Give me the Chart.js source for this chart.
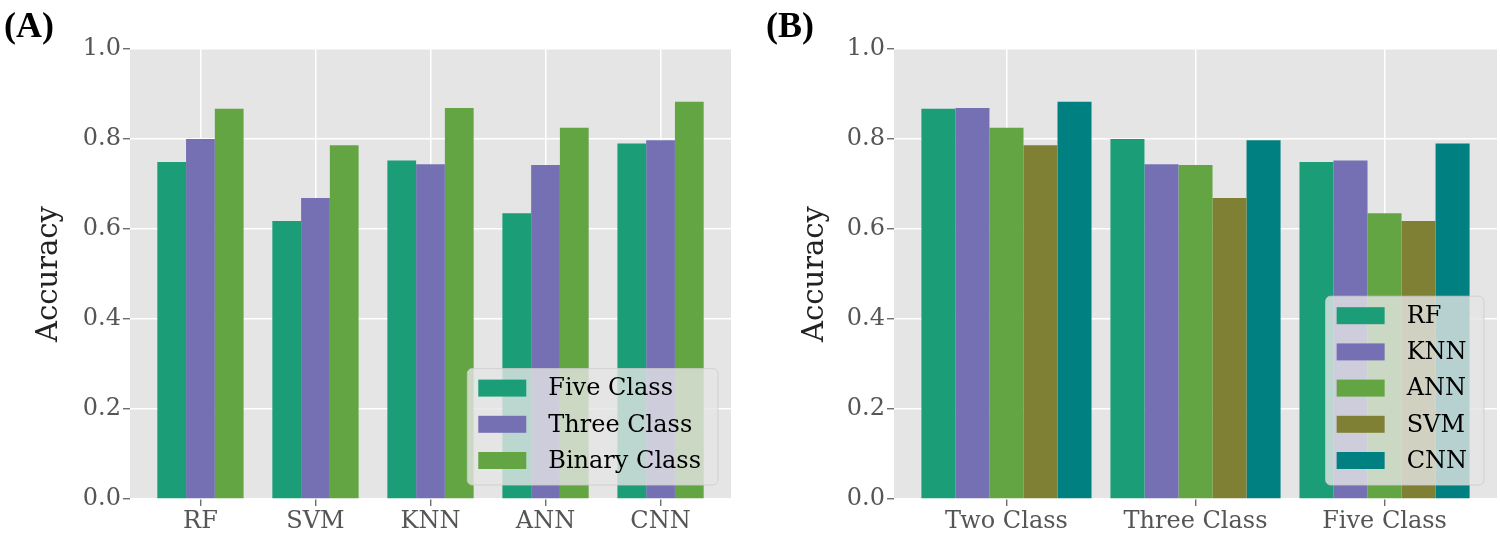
<!DOCTYPE html>
<html><head><meta charset="utf-8">
<script src="https://cdn.jsdelivr.net/npm/chart.js@4.4.1/dist/chart.umd.min.js"></script>
<style>
html,body{margin:0;padding:0;background:#fff;}
#wrap{position:relative;width:1500px;height:535px;overflow:hidden;background:#fff;}
.panel{position:absolute;top:0;width:750px;height:535px;}
.plabel{position:absolute;font-family:"Liberation Serif","Times New Roman",serif;font-weight:bold;font-size:36px;line-height:1;color:#000;}
</style></head>
<body><div id="wrap">
<div class="panel" style="left:0"><canvas id="cA" width="750" height="535"></canvas></div>
<div class="panel" style="left:750px"><canvas id="cB" width="750" height="535"></canvas></div>
<div class="plabel" style="left:4px;top:7px">(A)</div>
<div class="plabel" style="left:766px;top:7px">(B)</div>
</div>
<script>
// ---- Panel A data ----
const modelsA = ["RF", "SVM", "KNN", "ANN", "CNN"];
const seriesNamesA = ["Five Class", "Three Class", "Binary Class"];
const fiveClassA = [0.749, 0.618, 0.752, 0.635, 0.790];
const threeClassA = [0.800, 0.669, 0.744, 0.742, 0.797];
const binaryClassA = [0.867, 0.786, 0.869, 0.825, 0.883];
const colorsA = ["#1b9e77", "#7570b3", "#63a542"];

// ---- Panel B data ----
const classesB = ["Two Class", "Three Class", "Five Class"];
const seriesNamesB = ["RF", "KNN", "ANN", "SVM", "CNN"];
const rfB = [0.867, 0.800, 0.749];
const knnB = [0.869, 0.744, 0.752];
const annB = [0.825, 0.742, 0.635];
const svmB = [0.786, 0.669, 0.618];
const cnnB = [0.883, 0.797, 0.790];
const colorsB = ["#1b9e77", "#7570b3", "#63a542", "#7f8034", "#008080"];

// ---- shared ----
const yTicks = [0.0, 0.2, 0.4, 0.6, 0.8, 1.0];
const yLabel = "Accuracy";
const FONT = "'DejaVu Serif', serif";

const plotBg = {
  id: 'plotBg',
  beforeDraw(chart, args, o) {
    const {ctx, chartArea: a} = chart;
    ctx.save();
    ctx.fillStyle = o.color;
    ctx.fillRect(a.left, a.top, a.right - a.left, a.bottom - a.top);
    ctx.restore();
  }
};

const boxLegend = {
  id: 'boxLegend',
  afterDatasetsDraw(chart, args, o) {
    const ctx = chart.ctx, a = chart.chartArea;
    const ds = chart.data.datasets;
    ctx.save();
    ctx.font = o.fontSize + 'px ' + FONT;
    let tw = 0;
    ds.forEach(d => { tw = Math.max(tw, ctx.measureText(d.label).width); });
    const w = o.padLeft + o.handleW + o.gap + tw + o.padRight;
    const h = o.padTop + (ds.length - 1) * o.rowH + o.padBottom;
    const x = a.right - o.insetRight - w, y = a.bottom - o.insetBottom - h;
    const r = 5;
    ctx.beginPath();
    ctx.moveTo(x + r, y);
    ctx.arcTo(x + w, y, x + w, y + h, r);
    ctx.arcTo(x + w, y + h, x, y + h, r);
    ctx.arcTo(x, y + h, x, y, r);
    ctx.arcTo(x, y, x + w, y, r);
    ctx.closePath();
    ctx.fillStyle = 'rgba(229,229,229,0.8)';
    ctx.fill();
    ctx.strokeStyle = 'rgba(204,204,204,0.8)';
    ctx.lineWidth = 1;
    ctx.stroke();
    ctx.textBaseline = 'middle';
    ctx.textAlign = 'left';
    ds.forEach((d, i) => {
      const cy = y + o.padTop + i * o.rowH;
      ctx.fillStyle = d.backgroundColor;
      ctx.fillRect(x + o.padLeft, cy - o.handleH / 2, o.handleW, o.handleH);
      ctx.fillStyle = '#000';
      ctx.fillText(d.label, x + o.padLeft + o.handleW + o.gap, cy + 1);
    });
    ctx.restore();
  }
};

function makeChart(id, cats, seriesVals, names, colors, groupW, axisW, padRight, titlePad) {
  const n = cats.length;
  const margin = 0.05 * (n - 1 + groupW);
  const datasets = seriesVals.map((vals, k) => ({
    label: names[k],
    data: vals.map((v, i) => ({x: i, y: v})),
    backgroundColor: colors[k],
    borderWidth: 0,
    categoryPercentage: groupW,
    barPercentage: 1.0
  }));
  return new Chart(document.getElementById(id), {
    type: 'bar',
    data: {datasets},
    plugins: [plotBg, boxLegend],
    options: {
      responsive: false,
      animation: false,
      devicePixelRatio: 1,
      layout: {padding: {left: 0, top: 49, right: padRight, bottom: 0}},
      plugins: {
        legend: {display: false},
        tooltip: {enabled: false},
        plotBg: {color: '#e5e5e5'},
        boxLegend: {fontSize: 24, padLeft: 11, handleW: 48, handleH: 17, gap: 22, padRight: 17,
                    padTop: 19.5, rowH: 36.2, padBottom: 24.5, insetRight: 13, insetBottom: 14}
      },
      scales: {
        x: {
          type: 'linear',
          offset: false,
          min: -groupW / 2 - margin,
          max: n - 1 + groupW / 2 + margin,
          afterBuildTicks: s => { s.ticks = cats.map((c, i) => ({value: i})); },
          afterFit: s => { s.height = 36; },
          grid: {offset: false, color: '#ffffff', lineWidth: 1.5, drawTicks: true, tickLength: 7,
                 tickColor: '#555555', tickWidth: 1.2},
          border: {display: false},
          ticks: {
            autoSkip: false, maxRotation: 0, padding: 1,
            color: '#555555', font: {family: FONT, size: 24},
            callback: v => cats[v]
          }
        },
        y: {
          min: 0, max: 1,
          afterBuildTicks: s => { s.ticks = yTicks.map(v => ({value: v})); },
          afterFit: s => { s.width = axisW; },
          grid: {color: '#ffffff', lineWidth: 1.5, drawTicks: true, tickLength: 7,
                 tickColor: '#555555', tickWidth: 1.2},
          border: {display: false},
          ticks: {padding: 2, color: '#555555', font: {family: FONT, size: 24},
                  callback: v => Number(v).toFixed(1)},
          title: {display: true, text: yLabel, color: '#222222',
                  font: {family: FONT, size: 29}, padding: {top: titlePad, bottom: 0}}
        }
      }
    }
  });
}

makeChart('cA', modelsA, [fiveClassA, threeClassA, binaryClassA], seriesNamesA, colorsA, 0.75, 130, 19, 32);
makeChart('cB', classesB, [rfB, knnB, annB, svmB, cnnB], seriesNamesB, colorsB, 0.9, 144, 3, 48.5);
</script>
</body></html>
